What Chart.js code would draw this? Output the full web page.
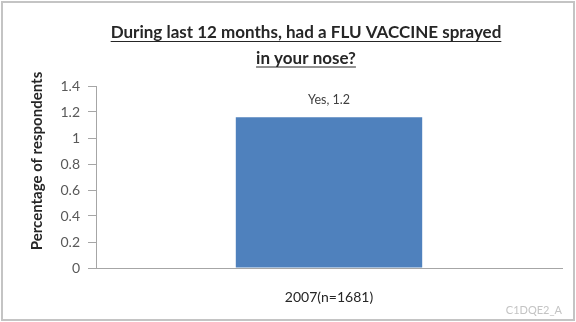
<!DOCTYPE html>
<html>
<head>
<meta charset="utf-8">
<script src="https://cdn.jsdelivr.net/npm/chart.js@4/dist/chart.umd.min.js"></script>
<style>
  html, body { margin: 0; padding: 0; background: #fff; }
  #wrap { width: 576px; height: 322px; position: relative; }
</style>
</head>
<body>
<div id="wrap"><canvas id="c" width="576" height="322"></canvas></div>
<script>
// Survey data
const categories = ['2007(n=1681)'];
const seriesName = 'Yes';
const yesValues = [1.16];
const yTicks = [0, 0.2, 0.4, 0.6, 0.8, 1, 1.2, 1.4];
const titleLines = ['During last 12 months, had a FLU VACCINE sprayed', 'in your nose?'];
const yAxisTitle = 'Percentage of respondents';
const footnote = 'C1DQE2_A';

const FONT = 'Lato, "Liberation Sans", sans-serif';

// Background, frame, underlined title, rotated axis title and footnote
const decor = {
  id: 'decor',
  beforeDraw(chart) {
    const ctx = chart.ctx;
    ctx.save();
    ctx.fillStyle = '#fff';
    ctx.fillRect(0, 0, chart.width, chart.height);
    ctx.strokeStyle = '#c4c4c4';
    ctx.lineWidth = 2;
    ctx.strokeRect(2, 2, chart.width - 4, chart.height - 4);
    ctx.restore();
  },
  afterDraw(chart) {
    const ctx = chart.ctx;
    ctx.save();
    // title
    ctx.font = 'bold 17px ' + FONT;
    ctx.fillStyle = '#262626';
    ctx.strokeStyle = '#262626';
    ctx.lineWidth = 1;
    ctx.textAlign = 'center';
    ctx.textBaseline = 'middle';
    const cx = 306;
    titleLines.forEach((t, i) => {
      const y = 33 + i * 25.5;
      ctx.fillText(t, cx, y);
      const w = ctx.measureText(t).width;
      ctx.beginPath();
      ctx.moveTo(cx - w / 2, y + 8.5);
      ctx.lineTo(cx + w / 2, y + 8.5);
      ctx.stroke();
    });
    // y axis title
    ctx.save();
    ctx.translate(37, 161);
    ctx.rotate(-Math.PI / 2);
    ctx.font = 'bold 15px ' + FONT;
    ctx.fillStyle = '#262626';
    ctx.fillText(yAxisTitle, 0, 0);
    ctx.restore();
    // value labels
    const meta = chart.getDatasetMeta(0);
    ctx.font = '12.5px ' + FONT;
    ctx.fillStyle = '#404040';
    meta.data.forEach((bar, i) => {
      const v = chart.data.datasets[0].data[i];
      ctx.fillText(seriesName + ', ' + v.toFixed(1), bar.x, bar.y - 17);
    });
    // footnote
    ctx.font = '11px ' + FONT;
    ctx.fillStyle = '#c4c4c4';
    ctx.textAlign = 'right';
    ctx.fillText(footnote, 562, 310);
    ctx.restore();
  }
};

new Chart(document.getElementById('c'), {
  type: 'bar',
  data: {
    labels: categories,
    datasets: [{
      label: seriesName,
      data: yesValues,
      backgroundColor: '#4F81BD',
      borderWidth: 0,
      categoryPercentage: 1,
      barPercentage: 0.4
    }]
  },
  options: {
    responsive: false,
    animation: false,
    devicePixelRatio: 1,
    layout: { padding: { left: 29, right: 14, top: 86, bottom: 0 } },
    plugins: { legend: { display: false }, tooltip: { enabled: false }, title: { display: false } },
    scales: {
      x: {
        grid: { display: true, drawOnChartArea: false, drawTicks: false, color: '#a6a6a6' },
        border: { color: '#a6a6a6', width: 1 },
        ticks: { color: '#262626', font: { family: FONT, size: 14 }, padding: 21 },
        afterFit(scale) { scale.height = 54; }
      },
      y: {
        min: 0, max: 1.4,
        afterBuildTicks(scale) { scale.ticks = yTicks.map(v => ({ value: v })); },
        grid: { display: true, drawOnChartArea: false, drawTicks: true, tickLength: 8, color: '#a6a6a6' },
        border: { color: '#a6a6a6', width: 1 },
        ticks: { color: '#595959', font: { family: FONT, size: 14 }, padding: 8,
                 callback: v => String(v) },
        afterFit(scale) { scale.width = 67; }
      }
    }
  },
  plugins: [decor]
});
</script>
</body>
</html>
